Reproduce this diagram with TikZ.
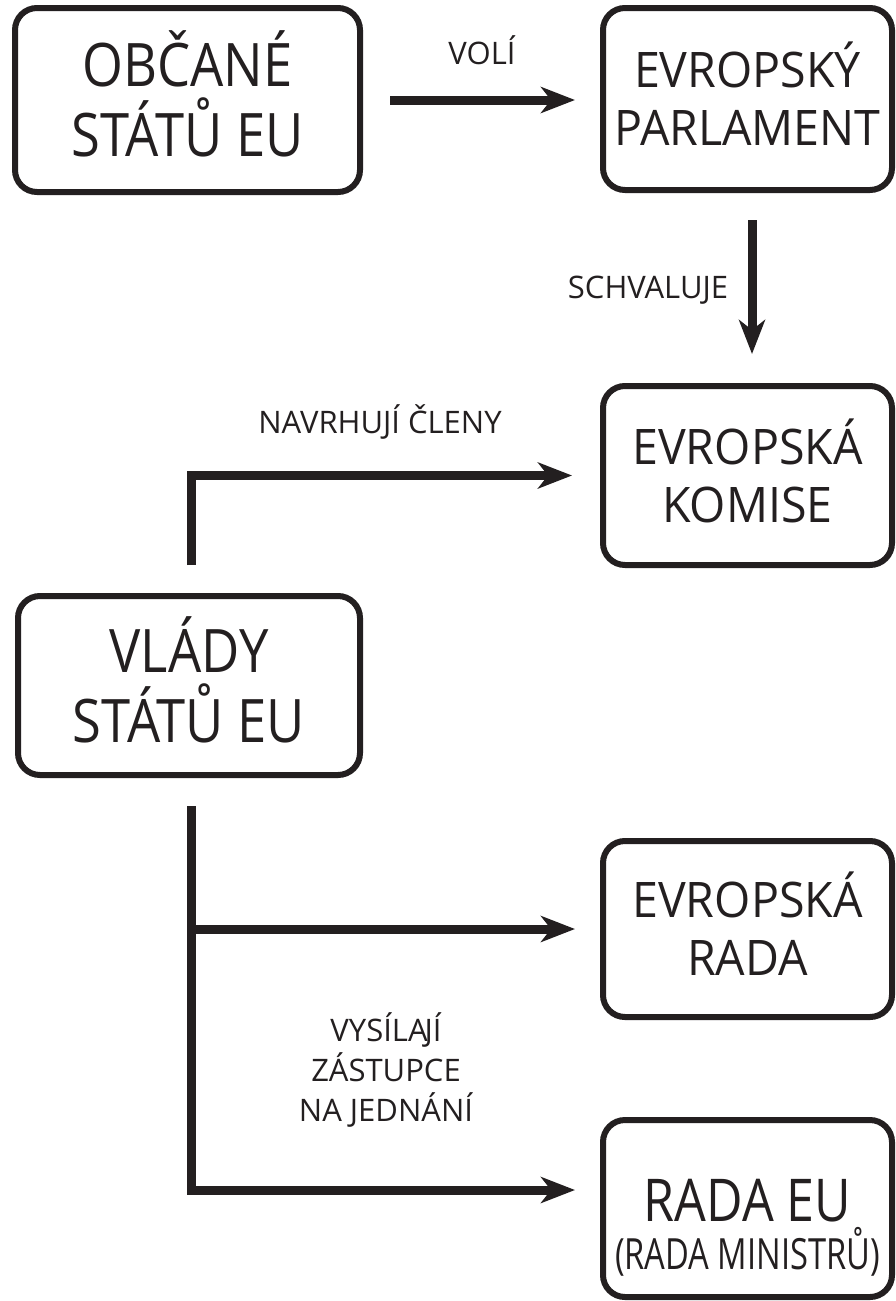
\documentclass[tikz,border=0pt]{standalone}
\usepackage{fontspec}
\setmainfont{Open Sans}
\newfontfamily\leftfont[FakeStretch=0.875]{Open Sans}
\newfontfamily\rightfont[FakeStretch=0.95]{Open Sans}
\newfontfamily\radafont[FakeStretch=0.85]{Open Sans}
\newfontfamily\ministrfont[FakeStretch=0.76]{Open Sans}
\newcommand\lowstrut{\rule[-0.2em]{0pt}{0.2em}}
\usetikzlibrary{arrows.meta}
\definecolor{ink}{HTML}{231F20}
\begin{document}
\begin{tikzpicture}[x=1pt,y=1pt,
  box/.style={draw=ink, line width=6pt, rounded corners=22pt, align=center, text=ink, inner sep=0pt},
  lbox/.style={box, minimum width=345pt, minimum height=184pt, font=\leftfont\fontsize{60}{70}\selectfont},
  rbox/.style={box, minimum width=289pt, minimum height=180pt, font=\rightfont\fontsize{49}{58}\selectfont},
  conn/.style={draw=ink, line width=9pt},
  arr/.style={conn, -{Stealth[length=34pt,width=26pt,inset=10pt]}},
  lab/.style={text=ink, font=\fontsize{31}{40}\selectfont, align=center, inner sep=0pt}]
\useasboundingbox (0,0) rectangle (896,-1301);
\fill[white] (0,0) rectangle (896,-1301);

\node[lbox] (obcane) at (187.5,-100) {OBČANÉ\\STÁTŮ EU\lowstrut};
\node[rbox, minimum height=182pt] (parlament) at (747.5,-99) {EVROPSKÝ\\PARLAMENT\lowstrut};
\node[rbox, minimum height=179pt] (komise) at (747.5,-475.5) {EVROPSKÁ\\KOMISE\lowstrut};
\node[lbox, minimum width=342pt, minimum height=179pt] (vlady) at (189,-685.5) {VLÁDY\\STÁTŮ EU\lowstrut};
\node[rbox, minimum height=176pt] (rada) at (747.5,-929) {EVROPSKÁ\\RADA\lowstrut};
\node[rbox, minimum height=177pt, font=\radafont\fontsize{59}{48}\selectfont] (radaeu) at (747.5,-1208.5) {\rule{0pt}{80pt}RADA EU\\\ministrfont\fontsize{43}{48}\selectfont (RADA MINISTRŮ)};

\coordinate (voliE) at ([xshift=-25pt]parlament.west);
\draw[arr] ([xshift=27pt]obcane.east) -- (voliE |- obcane.east);

\draw[arr] ([xshift=4.5pt,yshift=-27pt]parlament.south) -- ([xshift=4.5pt,yshift=29pt]komise.north);

\coordinate (nk) at ([xshift=-28pt]komise.west);
\draw[arr] ([xshift=2pt,yshift=28pt]vlady.north) |- (nk);

\coordinate (vt) at ([xshift=2pt,yshift=-28pt]vlady.south);
\coordinate (re) at ([xshift=-25pt]radaeu.west);
\path (vt |- re) ++(0,18.5) coordinate (vb);
\draw[arr] (vt) -- (vb) -- (vb -| re);
\coordinate (ra) at ([xshift=-25pt]rada.west);
\draw[arr] (vt |- ra) -- (ra);

\node[lab, anchor=base] (voli) at (482,-64) {VOLÍ};
\node[lab, anchor=base] (schv) at (648,-298) {SCHVALUJE};
\node[lab, anchor=base] (navrh) at (380,-433) {NAVRHUJÍ ČLENY};
\node[lab] (vysil) at (386,-1070) {VYSÍLA\kern-3pt JÍ\\ZÁSTUPCE\\NA JEDNÁNÍ};
\end{tikzpicture}
\end{document}
